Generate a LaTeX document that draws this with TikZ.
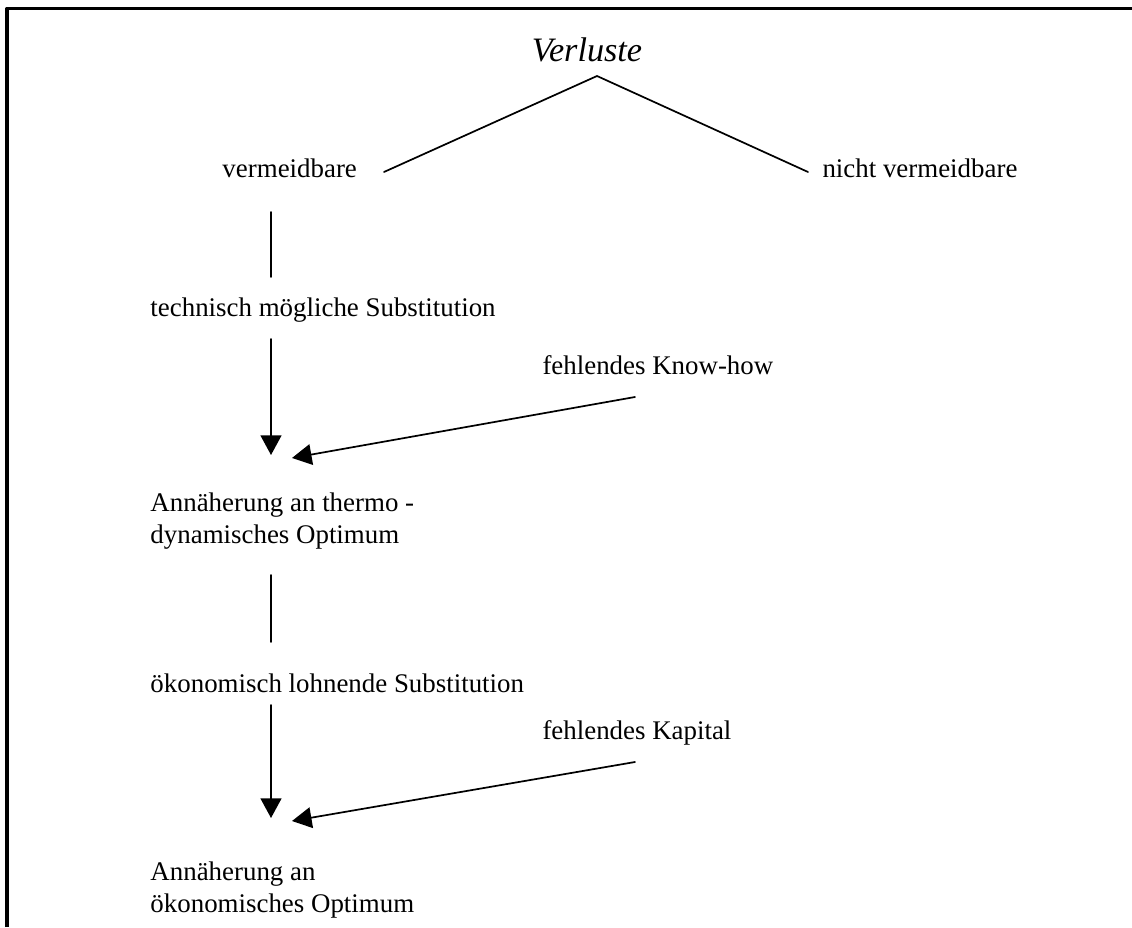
\documentclass[tikz,border=0pt]{standalone}
\usepackage{fontspec}
\setmainfont{Liberation Serif}
\usetikzlibrary{arrows.meta}

\begin{document}
\begin{tikzpicture}[line cap=round, line join=round,
                    x=0.409pt, y=-0.409pt,
                    lbl/.style={anchor=base west, inner sep=0pt, align=left,
                                font=\fontsize{11}{13}\selectfont},
                    ttl/.style={anchor=base, inner sep=0pt,
                                font=\fontsize{14}{16}\selectfont\itshape},
                    conn/.style={color=black, line width=0.7pt},
                    arr/.style={conn, -{Triangle[length=8pt, width=8.5pt]}}]
\useasboundingbox (0,0) rectangle (1132,927);
\draw [color=black, line width=1.25pt, line cap=butt] (7,927) -- (7,8.5) -- (1132,8.5);
% texts (two-line nodes sit on the baseline of their last line)
\node [ttl] (verl) at (587,62) {Verluste};
\node [lbl] (verm) at (222,178) {vermeidbare};
\node [lbl] (nverm) at (822,178) {nicht vermeidbare};
\node [lbl] (tech) at (150,316) {technisch mögliche Substitution};
\node [lbl] (know) at (542,374) {fehlendes Know-how};
\node [lbl] (thopt) at (150,543) {Annäherung an thermo -\\dynamisches Optimum};
\node [lbl] (oeko) at (150,692) {ökonomisch lohnende Substitution};
\node [lbl] (kap) at (542,739) {fehlendes Kapital};
\node [lbl] (ekopt) at (150,912) {Annäherung an\\ökonomisches Optimum};
% connector ends
\coordinate (apex) at (597,76);
\coordinate (lft) at (384,172);
\coordinate (rgt) at (808,172);
\coordinate (v1a) at (271,212);
\coordinate (v1b) at (271,277);
\coordinate (v2a) at (271,339);
\coordinate (v2b) at (271,455);
\coordinate (d1a) at (635,397);
\coordinate (d1b) at (292,458);
\coordinate (v3a) at (271,575);
\coordinate (v3b) at (271,642);
\coordinate (v4a) at (271,705);
\coordinate (v4b) at (271,818);
\coordinate (d2a) at (635,762);
\coordinate (d2b) at (292,821);
% connectors
\draw [conn] (lft) -- (apex) -- (rgt);
\draw [conn] (v1a) -- (v1b);
\draw [arr] (v2a) -- (v2b);
\draw [arr] (d1a) -- (d1b);
\draw [conn] (v3a) -- (v3b);
\draw [arr] (v4a) -- (v4b);
\draw [arr] (d2a) -- (d2b);
\end{tikzpicture}
\end{document}
